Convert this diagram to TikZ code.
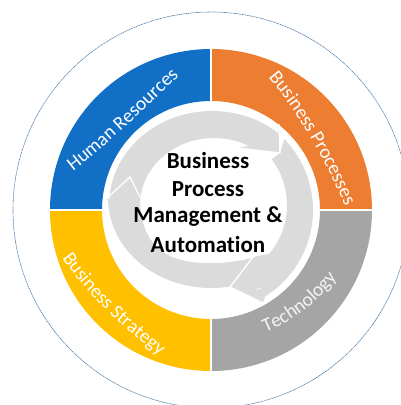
\documentclass[tikz,border=0pt]{standalone}
\usepackage{fontspec}
\setmainfont[Ligatures=NoCommon]{Carlito}
\usetikzlibrary{decorations.text}
\definecolor{hrblue}{HTML}{1170C6}
\definecolor{bporange}{HTML}{ED7D31}
\definecolor{techgray}{HTML}{A5A5A5}
\definecolor{stratyellow}{HTML}{FFC000}
\definecolor{arrowgray}{HTML}{DBDBDB}
\definecolor{dashblue}{HTML}{4A7AA8}
\tikzset{
  band/.style={fill=arrowgray,draw=none},
  headline/.style={draw=white,line width=1.3pt,line join=miter},
  centertext/.style={font=\fontsize{23}{23}\selectfont\bfseries,text=black,anchor=center,inner sep=0pt},
  arclabel/.style={decorate,decoration={text along path,text align=center,text={#1}}}
}
\newcommand{\lab}{\color{white}\fontsize{19.5}{19.5}\selectfont}
\newcommand{\labg}{\color{white!88!techgray}\fontsize{19.5}{19.5}\selectfont}
\begin{document}
\begin{tikzpicture}[x=1pt,y=-1pt]
\useasboundingbox (0,0) rectangle (401,405);
\fill[white] (0,0) rectangle (401,405);
\begin{scope}
\clip (0,0) rectangle (401,405);
\draw[dashblue,line width=0.6pt,dash pattern=on 1.2pt off 0.6pt] (211,210) circle[radius=198pt];
\end{scope}
% sectors
\begin{scope}\clip (211,210) rectangle (40,40);
\fill[hrblue,even odd rule] (211,210) circle[radius=161pt] (211,210) circle[radius=109pt];\end{scope}
\begin{scope}\clip (211,210) rectangle (380,40);
\fill[bporange,even odd rule] (211,210) circle[radius=161pt] (211,210) circle[radius=109pt];\end{scope}
\begin{scope}\clip (211,210) rectangle (380,380);
\fill[techgray,even odd rule] (211,210) circle[radius=161pt] (211,210) circle[radius=109pt];\end{scope}
\begin{scope}\clip (211,210) rectangle (40,380);
\fill[stratyellow,even odd rule] (211,210) circle[radius=161pt] (211,210) circle[radius=109pt];\end{scope}
\draw[white,line width=1.6pt] (211,45) -- (211,375) (45,210) -- (377,210);
\fill[white] (211,210) circle[radius=108pt];
% circular arrows
\fill[band] plot[variable=\t,domain=175:310,samples=50] ({212+103*cos(\t)},{205+94*sin(\t)})
  -- (278,124) -- (280,153) -- (238,148)
  -- plot[variable=\t,domain=298:185,samples=50] ({214+74*cos(\t)},{205+67*sin(\t)}) -- cycle;
\fill[band] plot[variable=\t,domain=-44:58,samples=50] ({211+102*cos(\t)},{210+102*sin(\t)})
  -- (263,303) -- (230,287) -- (253,257)
  -- plot[variable=\t,domain=40:-37,samples=50] ({211+76*cos(\t)},{205+76*sin(\t)}) -- (280,153) -- cycle;
\fill[band] plot[variable=\t,domain=78:180,samples=50] ({211+103*cos(\t)},{198+90*sin(\t)})
  -- (105,200) -- (140,197)
  .. controls (140,245) and (165,264) .. (212,263)
  .. controls (230,263) and (245,260) .. (255,257) -- (230,287) -- cycle;
\draw[headline] (279,124) -- (280,153) -- (238,148);
\draw[headline] (253,257) -- (230,287) -- (263,303);
\draw[headline] (105,200) -- (130,177) -- (140,197);
\draw[white,line width=0.6pt] (256,290) -- (261,288);
% centre text
\node[centertext] (t1) at (208,161) {Business};
\node[centertext] (t2) at (208,189) {Process};
\node[centertext] (t3) at (208,217) {Management \&};
\node[centertext] (t4) at (208,245) {Automation};
% curved labels
\path[arclabel={|\lab|Human Resources}] (72,172) .. controls (105,147) and (143,110) .. (180,75);
\path[arclabel={|\lab|Business Processes}] (267,76) .. controls (298,112) and (325,160) .. (346,208);
\path[arclabel={|\lab|Business Strategy}] (62,258) .. controls (90,298) and (125,330) .. (160,356);
\path[arclabel={|\labg|Technology}] (264,333) .. controls (292,322) and (318,302) .. (338,276);
\end{tikzpicture}
\end{document}
